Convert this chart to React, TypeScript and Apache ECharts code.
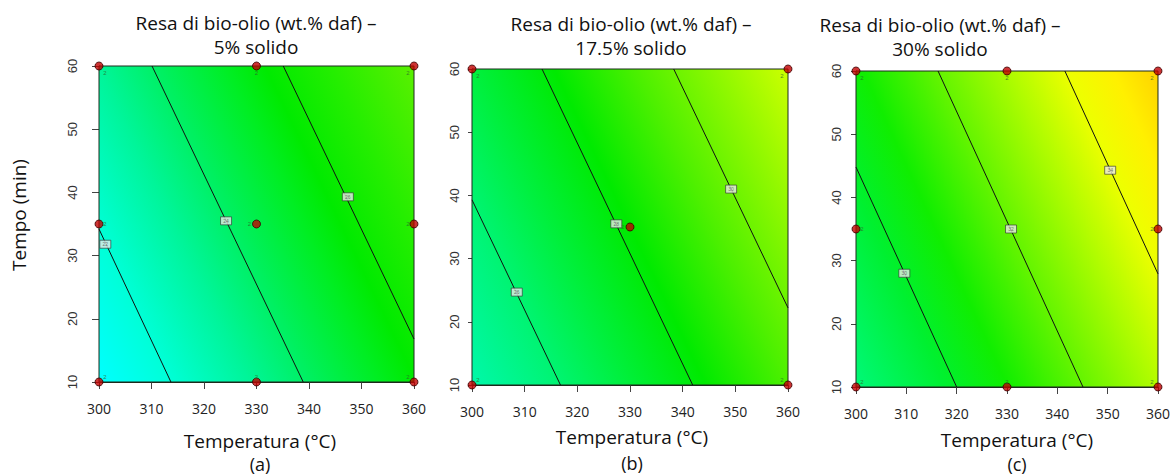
import React, { useEffect, useRef } from "react";
import * as echarts from "echarts";

// ---- data ----
const X_MIN = 300, X_MAX = 360, X_STEP = 10;
const Y_MIN = 10, Y_MAX = 60, Y_STEP = 10;

const titleLine1 = ["Resa di bio-olio (wt.% daf) –", "Resa di bio-olio (wt.% daf) –", "Resa di bio-olio (wt.% daf) –"];
const titleLine2 = ["5% solido", "17.5% solido", "30% solido"];
const panelLetters = ["(a)", "(b)", "(c)"];
const xAxisName = "Temperatura (°C)";
const yAxisName = "Tempo (min)";

// contour lines: [[T, t] start, [T, t] end]
const contoursA = [[[300, 34.2], [313.7, 10]], [[310.1, 60], [338.9, 10]], [[335.1, 60], [360, 16.8]]];
const contoursB = [[[300, 39.3], [316.8, 10]], [[313.3, 60], [341.9, 10]], [[338.3, 60], [360, 22.2]]];
const contoursC = [[[300, 44.8], [320, 10]], [[316.3, 60], [345.1, 10]], [[341.5, 60], [360, 27.9]]];

// contour label boxes: [T, t, level]
const contourLabelsA = [[301.2, 31.8, "22"], [324.2, 35.5, "24"], [347.4, 39.3, "26"]];
const contourLabelsB = [[308.5, 24.7, "26"], [327.4, 35.5, "28"], [349.2, 41.0, "30"]];
const contourLabelsC = [[309.6, 28.0, "30"], [330.8, 35.0, "32"], [350.5, 44.3, "34"]];

// design points [T, t]
const pointsA = [[300, 60], [330, 60], [360, 60], [300, 35], [330, 35], [360, 35], [300, 10], [330, 10], [360, 10]];
const pointsB = [[300, 60], [360, 60], [330, 35], [300, 10], [360, 10]];
const pointsC = [[300, 60], [330, 60], [360, 60], [300, 35], [360, 35], [300, 10], [330, 10], [360, 10]];

// colour ramps (offset along the response gradient, colour)
const rampA = [[0, "#00ffff"], [0.15, "#00ffd8"], [0.32, "#00f59a"], [0.45, "#00f062"], [0.6, "#00ee22"], [0.68, "#00ea00"], [0.82, "#24ee00"], [1, "#5af000"]];
const rampB = [[0, "#00f8aa"], [0.18, "#00f474"], [0.32, "#00f040"], [0.5, "#00ea00"], [0.68, "#4ef000"], [0.85, "#90f800"], [1, "#ccff00"]];
const rampC = [[0, "#00f878"], [0.2, "#00f030"], [0.34, "#10ee00"], [0.5, "#60f400"], [0.67, "#b0fc00"], [0.8, "#eeff00"], [0.9, "#fff000"], [1, "#ffd200"]];

// ---- layout ----
const grids = [
  { left: 99, top: 66, width: 315, height: 316 },
  { left: 472, top: 69, width: 316, height: 316 },
  { left: 856, top: 71, width: 314, height: 316 },
];
const yLabelMargin = [20, 11, 13];
const yTickLen = [7, 4, 5];
const titleX = [256, 631, 940];
const titleY = [23, 24, 25];
const axisNameX = [260, 632, 1017];
const axisNameY = [441, 437, 440];
const letterY = [464, 463, 464];
const FONT = "'Open Sans'";

const contours = [contoursA, contoursB, contoursC];
const contourLabels = [contourLabelsA, contourLabelsB, contourLabelsC];
const points = [pointsA, pointsB, pointsC];
const ramps = [rampA, rampB, rampC];

export default function App() {
  const ref = useRef<HTMLDivElement>(null);
  useEffect(() => {
    if (!ref.current) return;
    const chart = echarts.init(ref.current, null, { renderer: "svg" });
    const series: any[] = [];
    const graphic: any[] = [];
    for (let i = 0; i < 3; i++) {
      const ramp = ramps[i];
      series.push({
        type: "custom",
        xAxisIndex: i,
        yAxisIndex: i,
        z: 1,
        silent: true,
        data: [[X_MIN, Y_MIN]],
        renderItem: (_p: any, api: any) => {
          const p0 = api.coord([X_MIN, Y_MAX]);
          const p1 = api.coord([X_MAX, Y_MIN]);
          return {
            type: "rect",
            shape: { x: p0[0], y: p0[1], width: p1[0] - p0[0], height: p1[1] - p0[1] },
            style: {
              fill: new echarts.graphic.LinearGradient(
                -0.101, 0.789, 1.101, 0.211,
                ramp.map(([o, c]) => ({ offset: o as number, color: c as string }))
              ),
              stroke: "#1c2a1c",
              lineWidth: 1,
            },
          };
        },
      });
      contours[i].forEach((seg) => {
        series.push({
          type: "line",
          xAxisIndex: i,
          yAxisIndex: i,
          z: 3,
          silent: true,
          symbol: "none",
          data: seg,
          lineStyle: { color: "#111", width: 1 },
        });
      });
      series.push({
        type: "scatter",
        xAxisIndex: i,
        yAxisIndex: i,
        z: 4,
        silent: true,
        symbol: "rect",
        symbolSize: [11, 8],
        itemStyle: { color: "#e8e8e8", borderColor: "#333", borderWidth: 0.8 },
        label: { show: true, position: "inside", fontSize: 5, color: "#555", formatter: (p: any) => p.value[2] },
        data: contourLabels[i],
      });
      series.push({
        type: "scatter",
        xAxisIndex: i,
        yAxisIndex: i,
        z: 5,
        silent: true,
        clip: false,
        symbol: "circle",
        symbolSize: 8,
        itemStyle: { color: "#c00000", borderColor: "#3a0000", borderWidth: 1 },
        data: points[i].map(([x, y]) => {
          let dx = 0, dy = 0;
          if (x === X_MIN) dx = 6;
          else if (x === X_MAX) dx = -6;
          if (y === Y_MAX) dy = 7;
          else if (y === Y_MIN) dy = -5;
          if (x !== X_MIN && x !== X_MAX && y !== Y_MIN && y !== Y_MAX) dx = -7;
          return {
            value: [x, y],
            label: { show: true, position: "inside", offset: [dx, dy], formatter: "2", fontSize: 6, color: "#2a6a2a" },
          };
        }),
      });

      graphic.push(
        { type: "text", x: titleX[i], y: titleY[i], style: { text: titleLine1[i], font: `19px ${FONT}`, fill: "#111", textAlign: "center", textVerticalAlign: "middle" } },
        { type: "text", x: titleX[i], y: titleY[i] + 24, style: { text: titleLine2[i], font: `19px ${FONT}`, fill: "#111", textAlign: "center", textVerticalAlign: "middle" } },
        { type: "text", x: axisNameX[i], y: axisNameY[i], style: { text: xAxisName, font: `19px ${FONT}`, fill: "#111", textAlign: "center", textVerticalAlign: "middle" } },
        { type: "text", x: axisNameX[i], y: letterY[i], style: { text: panelLetters[i], font: `18px ${FONT}`, fill: "#111", textAlign: "center", textVerticalAlign: "middle" } }
      );
    }
    graphic.push({
      type: "text", x: 19, y: 215, rotation: Math.PI / 2,
      style: { text: yAxisName, font: `19px ${FONT}`, fill: "#111", textAlign: "center", textVerticalAlign: "middle" },
    });

    const option: any = {
      animation: false,
      grid: grids,
      xAxis: grids.map((_, i) => ({
        gridIndex: i, type: "value", min: X_MIN, max: X_MAX, interval: X_STEP,
        axisLine: { show: true, onZero: false, lineStyle: { color: "#1c2a1c", width: 1 } },
        axisTick: { show: true, length: 7, lineStyle: { color: "#444" } },
        axisLabel: { margin: 19, fontFamily: "Open Sans", fontSize: 14, color: "#222" },
        splitLine: { show: false },
      })),
      yAxis: grids.map((_, i) => ({
        gridIndex: i, type: "value", min: Y_MIN, max: Y_MAX, interval: Y_STEP,
        axisLine: { show: true, onZero: false, lineStyle: { color: "#1c2a1c", width: 1 } },
        axisTick: { show: true, length: yTickLen[i], lineStyle: { color: "#444" } },
        axisLabel: { rotate: 90, margin: yLabelMargin[i], fontFamily: "Liberation Sans", fontSize: 13, color: "#333" },
        splitLine: { show: false },
      })),
      series,
      graphic,
    };
    chart.setOption(option);
    return () => chart.dispose();
  }, []);
  return <div ref={ref} style={{ position: "fixed", left: 0, top: 0, width: 1173, height: 475, background: "#fff" }} />;
}
